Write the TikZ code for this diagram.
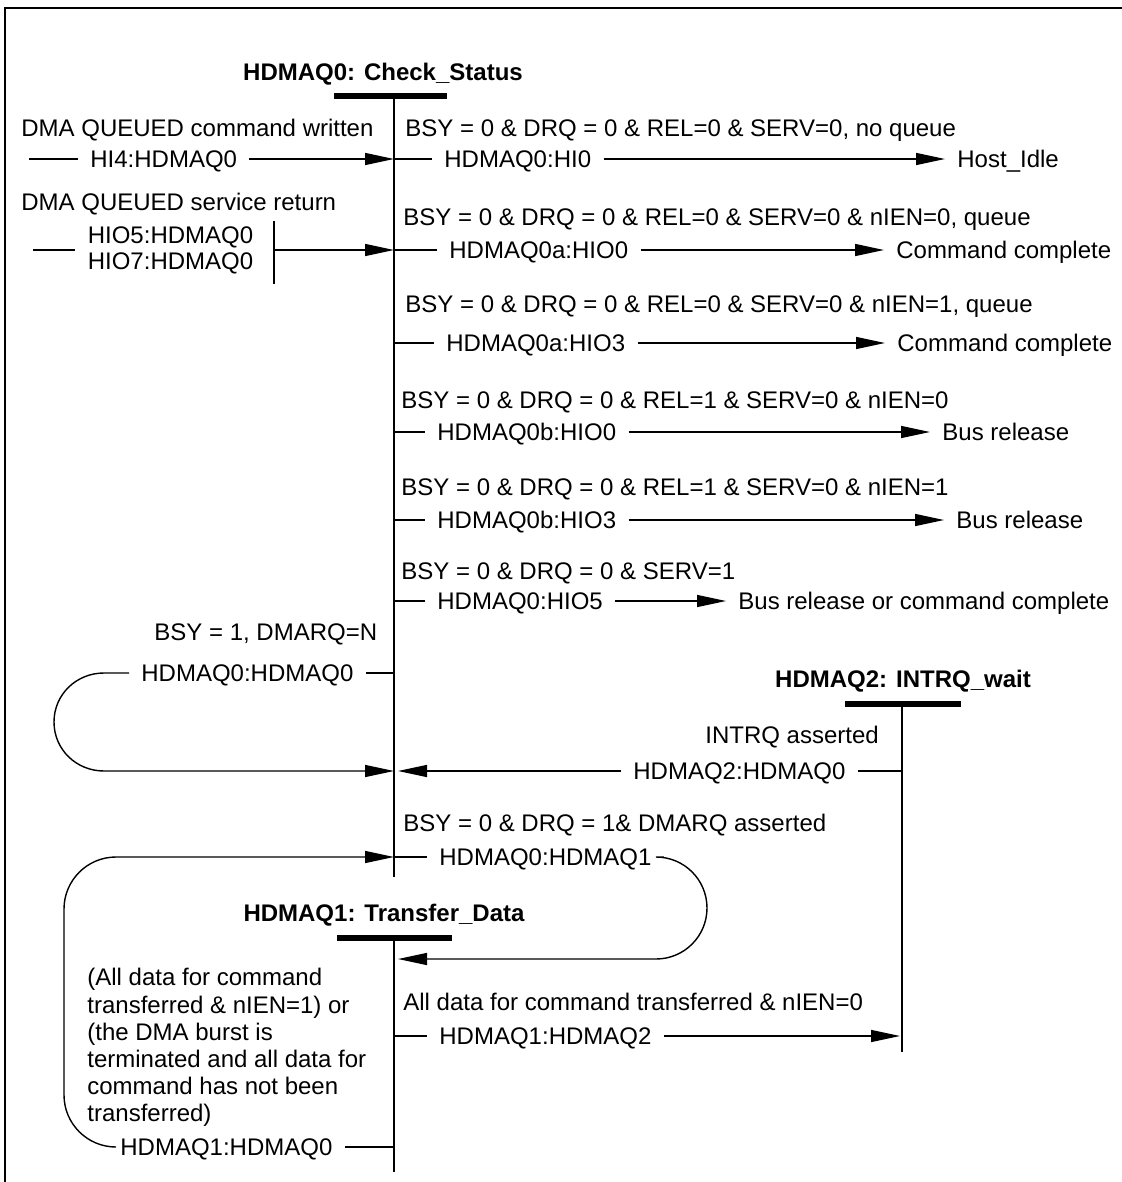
\documentclass[tikz,border=0pt]{standalone}
\usepackage{fontspec}
\setmainfont{Liberation Sans}
\usetikzlibrary{arrows.meta}
\newcommand\myfs{\fontsize{12pt}{13pt}\selectfont}
\newcommand\myfsb{\fontsize{12pt}{13.6pt}\selectfont}
\begin{document}
\begin{tikzpicture}[x=0.5pt,y=-0.5pt,
  txt/.style={font=\myfs, inner xsep=6pt, inner ysep=0pt, text height=8.6pt, text depth=0pt, anchor=west},
  ttl/.style={font=\myfs\bfseries, inner sep=0pt, text height=8.6pt, text depth=0pt, anchor=center},
  barn/.style={fill=black, inner sep=0pt, minimum height=3pt},
  vl/.style={line width=1pt},
  ln/.style={line width=0.7pt},
  arr/.style={ln, -{Triangle[length=14.5pt,width=6pt]}}
]
\useasboundingbox (0,0) rectangle (1122,1182);
% frame
\draw[line width=1.3pt] (5,1182) -- (5,8) -- (1122,8);

% ---------- state HDMAQ0 ----------
\node[ttl] (s0t) at (383,72) {HDMAQ0: Check\_Status};
\node[barn, minimum width=56.5pt] (s0b) at (390.5,96) {};
\coordinate (s0top) at (394,96);
\coordinate (s0bot) at (394,877);
\draw[vl] (s0top) -- (s0bot);

% incoming from left
\node[txt] (c1) at (9,128) {DMA QUEUED command written};
\coordinate (a1s) at (29,159);
\node[txt] (a1) at (78,159) {HI4:HDMAQ0};
\coordinate (a1e) at (394,159);
\draw[ln] (a1s) -- (a1.west);
\draw[arr] (a1.east) -- (a1e);

\node[txt] (c2) at (9,202) {DMA QUEUED service return};
\node[font=\myfs, inner xsep=6pt, inner ysep=0pt, align=center, anchor=center] (a2) at (170.5,250) {HIO5:HDMAQ0\\HIO7:HDMAQ0};
\coordinate (a2s) at (33,250);
\draw[ln] (a2s) -- (a2.west);
\coordinate (b1) at (274,221);
\coordinate (b2) at (274,284);
\coordinate (b3) at (274,250);
\coordinate (a2e) at (394,250);
\draw[vl] (b1) -- (b2);
\draw[arr] (b3) -- (a2e);

% outgoing to the right
\node[txt] (l1) at (393,128) {BSY = 0 \& DRQ = 0 \& REL=0 \& SERV=0, no queue};
\coordinate (r1) at (394,159);
\node[txt] (t1) at (432,159) {HDMAQ0:HI0};
\node[txt] (g1) at (945,159) {Host\_Idle};
\draw[ln] (r1) -- (t1.west);
\draw[arr] (t1.east) -- (g1.west);

\node[txt] (l2) at (391,217) {BSY = 0 \& DRQ = 0 \& REL=0 \& SERV=0 \& nIEN=0, queue};
\coordinate (r2) at (394,250);
\node[txt] (t2) at (437,250) {HDMAQ0a:HIO0};
\node[txt] (g2) at (884,250) {Command complete};
\draw[ln] (r2) -- (t2.west);
\draw[arr] (t2.east) -- (g2.west);

\node[txt] (l3) at (393,304) {BSY = 0 \& DRQ = 0 \& REL=0 \& SERV=0 \& nIEN=1, queue};
\coordinate (r3) at (394,343);
\node[txt] (t3) at (434,343) {HDMAQ0a:HIO3};
\node[txt] (g3) at (885,343) {Command complete};
\draw[ln] (r3) -- (t3.west);
\draw[arr] (t3.east) -- (g3.west);

\node[txt] (l4) at (389,400) {BSY = 0 \& DRQ = 0 \& REL=1 \& SERV=0 \& nIEN=0};
\coordinate (r4) at (394,432);
\node[txt] (t4) at (425,432) {HDMAQ0b:HIO0};
\node[txt] (g4) at (930,432) {Bus release};
\draw[ln] (r4) -- (t4.west);
\draw[arr] (t4.east) -- (g4.west);

\node[txt] (l5) at (389,487) {BSY = 0 \& DRQ = 0 \& REL=1 \& SERV=0 \& nIEN=1};
\coordinate (r5) at (394,520);
\node[txt] (t5) at (425,520) {HDMAQ0b:HIO3};
\node[txt] (g5) at (944,520) {Bus release};
\draw[ln] (r5) -- (t5.west);
\draw[arr] (t5.east) -- (g5.west);

\node[txt] (l6) at (389,571) {BSY = 0 \& DRQ = 0 \& SERV=1};
\coordinate (r6) at (394,601);
\node[txt] (t6) at (425,601) {HDMAQ0:HIO5};
\node[txt] (g6) at (726,601) {Bus release or command complete};
\draw[ln] (r6) -- (t6.west);
\draw[arr] (t6.east) -- (g6.west);

% self loop
\node[txt] (l7) at (142,632) {BSY = 1, DMARQ=N};
\node[txt] (t7) at (129,673) {HDMAQ0:HDMAQ0};
\coordinate (r7) at (394,673);
\coordinate (e7) at (394,771);
\draw[ln] (t7.east) -- (r7);
\draw[arr] (t7.west) -- (104,673) .. controls (76.4,673) and (54,694.4) .. (54,722) .. controls (54,749.6) and (76.4,771) .. (104,771) -- (e7);

% ---------- state HDMAQ2 ----------
\node[ttl] (s2t) at (903,679) {HDMAQ2: INTRQ\_wait};
\node[barn, minimum width=58pt] (s2b) at (903,704) {};
\coordinate (s2top) at (902,704);
\coordinate (s2bot) at (902,1052);
\draw[vl] (s2top) -- (s2bot);

\node[txt] (l8) at (693,735) {INTRQ asserted};
\node[txt] (t8) at (621,771) {HDMAQ2:HDMAQ0};
\coordinate (r8) at (902,771);
\coordinate (e8) at (398,771);
\draw[ln] (r8) -- (t8.east);
\draw[arr] (t8.west) -- (e8);

% HDMAQ0 -> HDMAQ1
\node[txt] (l9) at (391,823) {BSY = 0 \& DRQ = 1\& DMARQ asserted};
\coordinate (r9) at (394,857);
\node[txt] (t9) at (427,857) {HDMAQ0:HDMAQ1};
\coordinate (e9) at (398,959);
\draw[ln] (r9) -- (t9.west);
\draw[arr] (t9.east) -- (656,857) .. controls (684.2,857) and (707,879.8) .. (707,908) .. controls (707,936.2) and (684.2,959) .. (656,959) -- (e9);

% ---------- state HDMAQ1 ----------
\node[ttl] (s1t) at (384,913) {HDMAQ1: Transfer\_Data};
\node[barn, minimum width=57.5pt] (s1b) at (394.5,938) {};
\coordinate (s1top) at (394,938);
\coordinate (s1bot) at (394,1172);
\draw[vl] (s1top) -- (s1bot);

% HDMAQ1 -> HDMAQ2
\node[txt] (l10) at (391,1002) {All data for command transferred \& nIEN=0};
\coordinate (r10) at (394,1036);
\node[txt] (t10) at (427,1036) {HDMAQ1:HDMAQ2};
\coordinate (e10) at (900,1036);
\draw[ln] (r10) -- (t10.west);
\draw[arr] (t10.east) -- (e10);

% HDMAQ1 -> HDMAQ0
\node[font=\myfsb, inner sep=0pt, align=left, anchor=north west] (l11) at (87,968)
  {(All data for command\\transferred \& nIEN=1) or\\(the DMA burst is\\terminated and all data for\\command has not been\\transferred)};
\node[txt] (t11) at (108,1147) {HDMAQ1:HDMAQ0};
\coordinate (r11) at (394,1147);
\coordinate (e11) at (394,857);
\draw[ln] (r11) -- (t11.east);
\draw[arr] ([xshift=4pt]t11.west) .. controls (87.3,1147) and (64,1123.7) .. (64,1095) -- (64,909) .. controls (64,880.3) and (87.3,857) .. (116,857) -- (e11);
\end{tikzpicture}
\end{document}
